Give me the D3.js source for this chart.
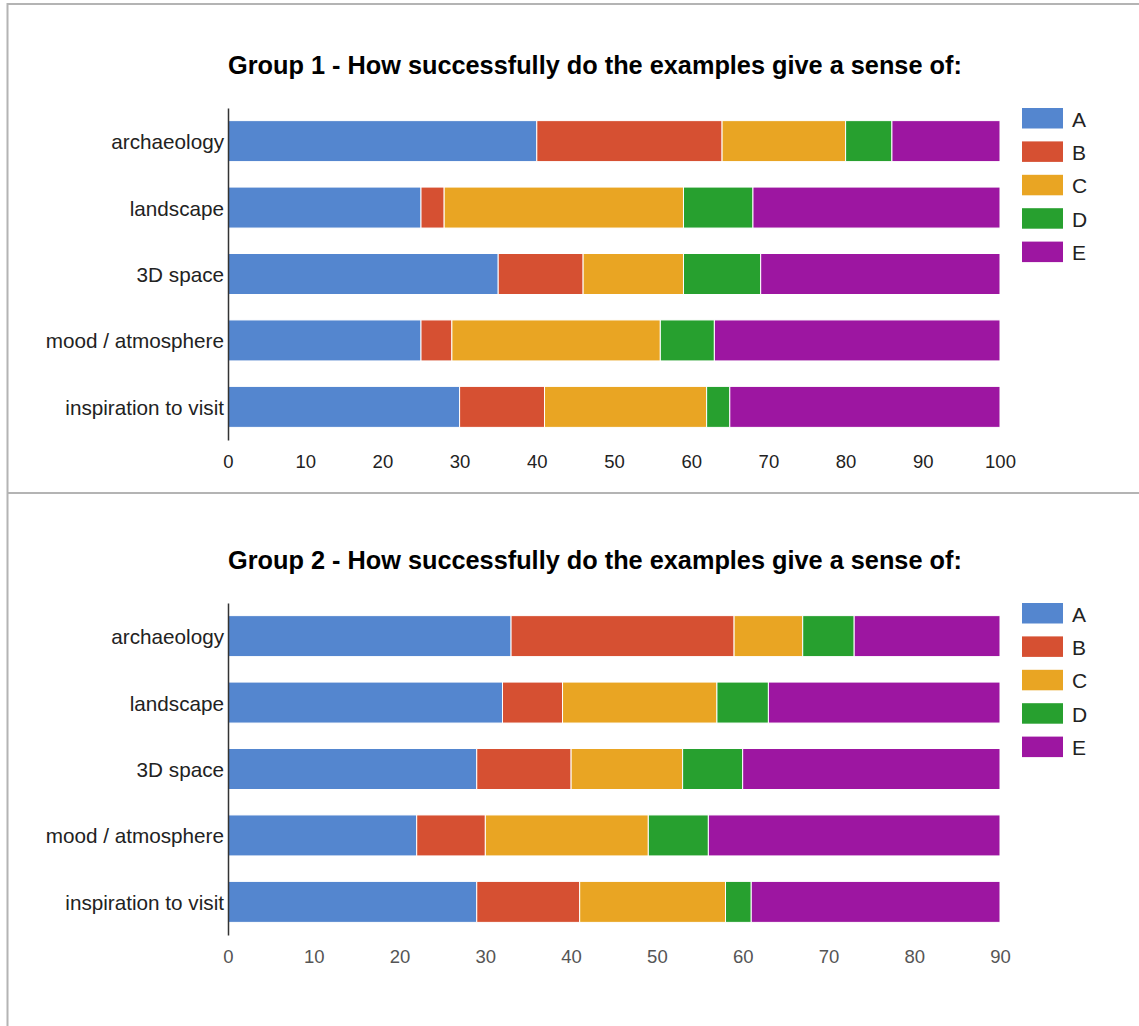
<!DOCTYPE html>
<html>
<head>
<meta charset="utf-8">
<script src="https://cdn.jsdelivr.net/npm/d3@7"></script>
<style>
  html, body { margin: 0; padding: 0; background: #fff; }
  svg { display: block; font-family: "Liberation Sans", Arial, Helvetica, sans-serif; }
</style>
</head>
<body>
<svg id="chart" width="1139" height="1026"></svg>
<script>
// Survey questions (rows, top to bottom)
const categories = ["archaeology", "landscape", "3D space", "mood / atmosphere", "inspiration to visit"];
// Answer options (stack order, left to right)
const seriesNames = ["A", "B", "C", "D", "E"];
const seriesColors = ["#5486CF", "#D65032", "#E9A523", "#27A02F", "#9D16A1"];

// Group 1 counts per answer option, one entry per row
const group1A = [40, 25, 35, 25, 30];
const group1B = [24, 3, 11, 4, 11];
const group1C = [16, 31, 13, 27, 21];
const group1D = [6, 9, 10, 7, 3];
const group1E = [14, 32, 31, 37, 35];
const group1Ticks = [0, 10, 20, 30, 40, 50, 60, 70, 80, 90, 100];

// Group 2 counts per answer option, one entry per row
const group2A = [33, 32, 29, 22, 29];
const group2B = [26, 7, 11, 8, 12];
const group2C = [8, 18, 13, 19, 17];
const group2D = [6, 6, 7, 7, 3];
const group2E = [17, 27, 30, 34, 29];
const group2Ticks = [0, 10, 20, 30, 40, 50, 60, 70, 80, 90];

const panels = [
  {
    title: "Group 1 - How successfully do the examples give a sense of:",
    series: [group1A, group1B, group1C, group1D, group1E],
    ticks: group1Ticks,
    top: 0,
    tickColor: "#222"
  },
  {
    title: "Group 2 - How successfully do the examples give a sense of:",
    series: [group2A, group2B, group2C, group2D, group2E],
    ticks: group2Ticks,
    top: 495,
    tickColor: "#555"
  }
];

const svg = d3.select("#chart");

// Page frame: top rule, left rule and separator between the two charts
const frame = svg.append("g").attr("stroke", "#b4b4b4").attr("stroke-width", 2);
frame.append("line").attr("x1", 7).attr("x2", 1139).attr("y1", 4).attr("y2", 4);
frame.append("line").attr("x1", 7.5).attr("x2", 7.5).attr("y1", 3).attr("y2", 1026);
frame.append("line").attr("x1", 7).attr("x2", 1139).attr("y1", 493).attr("y2", 493);

const plotLeft = 228, plotRight = 1000;

panels.forEach(panel => {
  const g = svg.append("g").attr("transform", `translate(0,${panel.top})`);

  // Build stacked rows from the series arrays
  const rows = categories.map((c, i) => {
    const row = { category: c };
    seriesNames.forEach((s, k) => { row[s] = panel.series[k][i]; });
    return row;
  });
  const stacked = d3.stack().keys(seriesNames)(rows);

  const x = d3.scaleLinear()
    .domain([0, d3.max(panel.ticks)])
    .range([plotLeft, plotRight]);

  const y = d3.scaleBand()
    .domain(categories)
    .range([108, 440])
    .paddingInner(0.383)
    .paddingOuter(0.19);

  const color = d3.scaleOrdinal().domain(seriesNames).range(seriesColors);

  // Title
  g.append("text")
    .attr("x", plotLeft)
    .attr("y", 74)
    .attr("font-size", 25.3)
    .attr("font-weight", "bold")
    .attr("fill", "#000")
    .text(panel.title);

  // Stacked bars
  g.append("g")
    .selectAll("g")
    .data(stacked)
    .join("g")
    .attr("fill", d => color(d.key))
    .selectAll("rect")
    .data(d => d)
    .join("rect")
    .attr("x", d => x(d[0]))
    .attr("y", d => y(d.data.category))
    .attr("width", d => x(d[1]) - x(d[0]))
    .attr("height", y.bandwidth())
    .attr("stroke", "#fff")
    .attr("stroke-width", 1);

  // Category axis (vertical baseline with labels)
  const yAxis = g.append("g")
    .attr("transform", `translate(${plotLeft},0)`)
    .call(d3.axisLeft(y).tickSize(0).tickSizeOuter(0).tickPadding(4));
  yAxis.select(".domain").attr("stroke", "#333").attr("stroke-width", 1.5);
  yAxis.selectAll("text")
    .attr("font-size", 20.7)
    .attr("font-family", "\"Liberation Sans\", Arial, sans-serif")
    .attr("fill", "#222")
    .attr("dy", null)
    .attr("y", 8);

  // Value axis labels
  const xAxis = g.append("g")
    .attr("transform", "translate(0,468)")
    .call(d3.axisBottom(x).tickValues(panel.ticks).tickSize(0).tickPadding(0));
  xAxis.select(".domain").remove();
  xAxis.selectAll("text")
    .attr("font-size", 18.5)
    .attr("font-family", "\"Liberation Sans\", Arial, sans-serif")
    .attr("fill", panel.tickColor)
    .attr("dy", null)
    .attr("y", 0);

  // Legend
  const legend = g.append("g")
    .selectAll("g")
    .data(seriesNames)
    .join("g")
    .attr("transform", (d, i) => `translate(1022,${108 + i * 33.4})`);
  legend.append("rect")
    .attr("width", 41)
    .attr("height", 20.5)
    .attr("fill", d => color(d));
  legend.append("text")
    .attr("x", 50)
    .attr("y", 18.5)
    .attr("font-size", 21)
    .attr("fill", "#222")
    .text(d => d);
});
</script>
</body>
</html>
